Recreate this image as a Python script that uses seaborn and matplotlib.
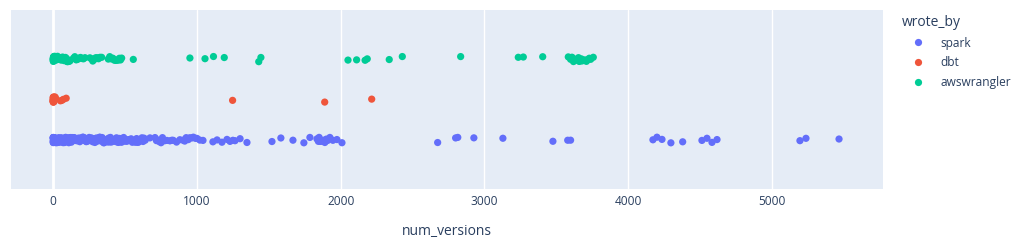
import numpy as np
import pandas as pd
import matplotlib
matplotlib.use("Agg")
import matplotlib.pyplot as plt
import seaborn as sns
from matplotlib.lines import Line2D

spark = [0, 0, 0, 0, 0, 0, 1, 1, 1, 2, 2, 2, 3, 3, 4, 4, 5, 5, 6, 7, 8, 9, 10, 11, 12, 14,
         15, 15, 17, 18, 20, 22, 24, 26, 28, 30, 32, 34, 36, 38, 40, 43, 45, 48, 50, 50, 53,
         55, 58, 60, 63, 66, 69, 72, 75, 78, 80, 82, 85, 88, 92, 96, 100, 104, 108, 110, 112,
         115, 118, 122, 126, 130, 134, 138, 142, 146, 150, 152, 155, 159, 163, 168, 172, 176,
         180, 185, 190, 195, 200, 200, 205, 210, 215, 220, 225, 230, 235, 240, 245, 250, 255,
         260, 260, 265, 270, 275, 280, 285, 290, 295, 300, 305, 310, 315, 320, 320, 325, 330,
         335, 340, 345, 350, 355, 360, 366, 372, 378, 380, 385, 392, 398, 404, 410, 416, 422,
         428, 435, 440, 442, 448, 454, 460, 467, 475, 482, 490, 497, 505, 512, 520, 527, 535,
         542, 550, 557, 565, 572, 580, 587, 595, 602, 610, 617, 625, 632, 640,
         673, 708, 718, 725, 732, 740, 750, 760, 775, 791, 812, 825, 835, 858, 881, 903, 915,
         925, 940, 950, 965, 975, 990, 1000, 1020, 1042, 1111, 1140, 1174, 1209, 1230, 1250,
         1265, 1300, 1348, 1522, 1584, 1668, 1744, 1786, 1835, 1845, 1850, 1858, 1865, 1872,
         1880, 1890, 1900, 1910, 1925, 1946, 1974, 2009,
         2675, 2800, 2815, 2927, 3129, 3477, 3580, 3600, 4173, 4201, 4236, 4298, 4380,
         4514, 4549, 4584, 4619, 5196, 5238, 5468]
dbt = [0, 0, 0, 0, 0, 0, 0, 0, 1, 1, 1, 2, 2, 3, 4, 5, 6, 8, 10, 12, 15, 50, 60, 70, 90,
       1248, 1889, 2216]
awswrangler = [0, 0, 0, 0, 1, 1, 2, 3, 5, 7, 10, 12, 15, 18, 20, 25, 30, 35, 40, 45, 50, 55,
               60, 65, 70, 75, 80, 85, 90, 95, 100, 105, 110, 116, 140, 150, 160, 170, 180,
               190, 200, 210, 221, 255, 265, 275, 285, 295, 305, 315, 325, 337, 383, 393, 405,
               415, 425, 435, 445, 452, 460, 468, 476, 557, 951, 1056, 1115, 1190, 1430, 1445,
               2051, 2111, 2170, 2185, 2338, 2429, 2835, 3236, 3271, 3406,
               3584, 3600, 3610, 3620, 3630, 3640, 3650, 3655, 3660, 3665, 3670, 3675, 3680,
               3690, 3700, 3710, 3720, 3730, 3740, 3758]

series = {"spark": spark, "dbt": dbt, "awswrangler": awswrangler}
hue_order = ["spark", "dbt", "awswrangler"]
row_order = ["awswrangler", "dbt", "spark"]
colors = {"spark": "#636EFA", "dbt": "#EF553B", "awswrangler": "#00CC96"}
xticks = [0, 1000, 2000, 3000, 4000, 5000]

df = pd.DataFrame(
    [(k, v) for k in hue_order for v in series[k]], columns=["wrote_by", "num_versions"]
)

sns.set_theme(style="white")
plt.rcParams["font.family"] = ["Open Sans", "DejaVu Sans"]
txt = "#2a3f5f"

W, H = 1033, 246
fig = plt.figure(figsize=(W / 100, H / 100), dpi=100)
L, R, T, B = 11, 883, 10, 189
ax = fig.add_axes([L / W, 1 - B / H, (R - L) / W, (B - T) / H])
ax.set_facecolor("#E5ECF6")

np.random.seed(3)
sns.stripplot(data=df, x="num_versions", y="wrote_by", hue="wrote_by",
              order=row_order, hue_order=hue_order, palette=colors,
              jitter=0.07, size=5.2, linewidth=0, ax=ax, legend=False, zorder=3)

ax.set_xlim(-294, 5774)
ax.set_ylim(3.21, -1.21)
ax.set_xticks(xticks)
ax.set_xticklabels([str(t) for t in xticks], color=txt, fontsize=8.6)
ax.set_yticks([])
ax.set_ylabel("")
ax.set_xlabel("num_versions", color=txt, fontsize=10, labelpad=12)
ax.tick_params(axis="x", length=0, pad=4)
for s in ax.spines.values():
    s.set_visible(False)
ax.set_axisbelow(True)
ax.grid(axis="x", color="white", linewidth=1)
ax.axvline(0, color="white", linewidth=2, zorder=1)

handles = [Line2D([], [], marker="o", linestyle="", markersize=5.2,
                  markerfacecolor=colors[k], markeredgewidth=0) for k in hue_order]
leg = fig.legend(handles, hue_order, title="wrote_by", loc="upper left",
                 bbox_to_anchor=(902 / W, 1 - 15 / H), frameon=False,
                 fontsize=8.6, title_fontsize=10, alignment="left",
                 handlelength=2.6, handletextpad=0.6, labelspacing=0.55,
                 borderpad=0, borderaxespad=0)
for t in leg.get_texts():
    t.set_color(txt)
leg.get_title().set_color(txt)

fig.savefig("out.png", dpi=100)
